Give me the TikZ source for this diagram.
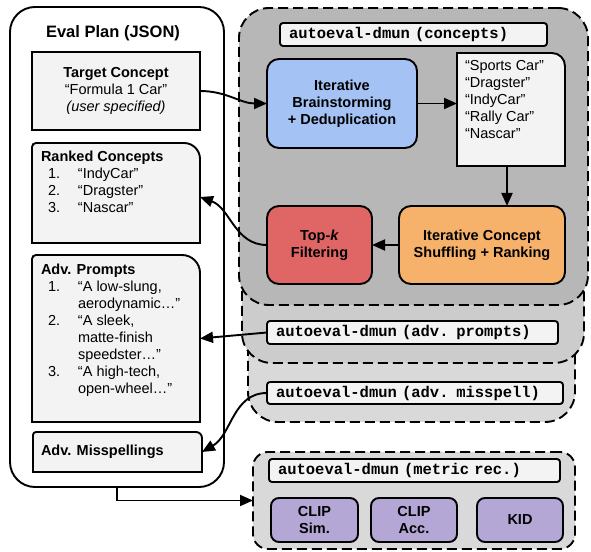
\documentclass[tikz,border=0pt]{standalone}
\usepackage{fontspec}
\setmainfont{Liberation Sans}
\setmonofont{Liberation Mono}
\usetikzlibrary{arrows.meta,calc}
\definecolor{lg}{HTML}{F3F3F3}
\definecolor{dgone}{HTML}{B7B7B7}
\definecolor{grc}{HTML}{CCCCCC}
\definecolor{lgone}{HTML}{D9D9D9}
\definecolor{blu}{HTML}{A4C2F4}
\definecolor{rdc}{HTML}{E06666}
\definecolor{orc}{HTML}{F6B26B}
\definecolor{prp}{HTML}{B4A7D6}
\begin{document}
\begin{tikzpicture}[x=1pt,y=1pt,
  every node/.style={inner sep=0pt, outer sep=0pt},
  body/.style={font=\fontsize{14.5}{17}\selectfont},
  ln/.style={line width=1.9pt},
  layer/.style={draw, ln, dash pattern=on 10pt off 5pt, rounded corners=30pt},
  tagbox/.style={draw, ln, fill=lg, rounded corners=3pt, text width=#1, align=left,
     font=\fontsize{15.5}{17}\selectfont\ttfamily\bfseries, minimum height=23pt, inner xsep=9pt},
  proc/.style={draw, ln, rounded corners=12pt, align=center, font=\fontsize{14.5}{17}\selectfont\bfseries},
  arr/.style={ln, -{Triangle[length=13pt,width=11pt]}},
  cardline/.style={ln, fill=lg}
]
\useasboundingbox (0,0) rectangle (591,551);

% ---------- Eval plan ----------
\node[draw, ln, rounded corners=25pt, minimum width=214pt, minimum height=480pt] (eval) at (117,304) {};
\node[font=\fontsize{16.5}{20}\selectfont\bfseries] (evaltitle) at (113,518) {Eval Plan (JSON)};

\node[draw, ln, fill=lg, minimum width=168pt, minimum height=78pt, align=center, body] (target) at (116,460)
  {\textbf{Target Concept}\\“Formula 1 Car”\\\textit{(user specified)}};

\node[minimum width=168pt, minimum height=100pt] (ranked) at (116,358) {};
\filldraw[cardline] (ranked.south west) -- ($(ranked.north west)+(0,-4)$) arc[start angle=180, end angle=90, radius=4pt]
  -- ($(ranked.north east)+(-16,0)$) arc[start angle=90, end angle=0, radius=16pt] -- (ranked.south east) -- cycle;
\node[body, align=left, anchor=north west] (rankedtxt) at (41,400)
  {\textbf{Ranked Concepts}\\
   \hspace*{7pt}\makebox[30pt][l]{1.}“IndyCar”\\
   \hspace*{7pt}\makebox[30pt][l]{2.}“Dragster”\\
   \hspace*{7pt}\makebox[30pt][l]{3.}“Nascar”};

\node[minimum width=168pt, minimum height=167pt] (prompts) at (116,212.5) {};
\filldraw[cardline] (prompts.south west) -- ($(prompts.north west)+(0,-4)$) arc[start angle=180, end angle=90, radius=4pt]
  -- ($(prompts.north east)+(-18,0)$) arc[start angle=90, end angle=0, radius=18pt] -- (prompts.south east) -- cycle;
\node[body, align=left, anchor=north west] (promptstxt) at (41,287.5)
  {\textbf{Adv. Prompts}\\
   \hspace*{7pt}\makebox[30pt][l]{1.}“A low-slung,\\
   \hspace*{37pt}aerodynamic…”\\
   \hspace*{7pt}\makebox[30pt][l]{2.}“A sleek,\\
   \hspace*{37pt}matte-finish\\
   \hspace*{37pt}speedster…”\\
   \hspace*{7pt}\makebox[30pt][l]{3.}“A high-tech,\\
   \hspace*{37pt}open-wheel…”};

\node[minimum width=169pt, minimum height=40pt] (missp) at (117.5,99) {};
\filldraw[cardline] (missp.south west) -- ($(missp.north west)+(0,-3)$) arc[start angle=180, end angle=90, radius=3pt]
  -- ($(missp.north east)+(-6,0)$) arc[start angle=90, end angle=0, radius=6pt] -- (missp.south east) -- cycle;
\node[body, anchor=west] (missptxt) at (41,99) {\textbf{Adv. Misspellings}};

% ---------- layered modules ----------
\node[layer, fill=lgone, minimum width=327pt, minimum height=392pt] (laym) at (411.5,325) {};
\node[layer, fill=grc, minimum width=342pt, minimum height=343pt] (layp) at (413,359.5) {};
\node[layer, fill=dgone, minimum width=349pt, minimum height=297pt] (layc) at (413.5,394.5) {};

\node[tagbox=249pt] (ctag) at (413.5,516.5) {autoeval-dmun (concepts)};
\node[proc, fill=blu, minimum width=150pt, minimum height=89pt] (blue) at (342,447.5) {Iterative\\Brainstorming\\+ Deduplication};

\node[minimum width=108pt, minimum height=113pt] (list) at (511,441.5) {};
\filldraw[cardline] (list.south west) -- (list.north west)
  -- ($(list.north east)+(-13,0)$) arc[start angle=90, end angle=0, radius=13pt] -- (list.south east) -- cycle;
\node[body, align=left, anchor=north west] (listtxt) at (465,490.5)
  {“Sports Car”\\“Dragster”\\“IndyCar”\\“Rally Car”\\“Nascar”};

\node[proc, fill=orc, minimum width=166pt, minimum height=78pt] (orange) at (482,306) {Iterative Concept\\Shuffling + Ranking};
\node[proc, fill=rdc, minimum width=105pt, minimum height=78pt] (red) at (319.5,306) {Top-\textit{k}\\Filtering};

\node[tagbox=273pt] (ptag) at (412.5,218.5) {autoeval-dmun (adv. prompts)};
\node[tagbox=278pt, minimum height=22pt] (mtag) at (415,158) {autoeval-dmun (adv. misspell)};

% ---------- metric module ----------
\node[layer, fill=lgone, rounded corners=15pt, minimum width=322pt, minimum height=97pt] (laymet) at (414,50.5) {};
\node[tagbox=273pt] (mettag) at (414.5,80.5) {autoeval-dmun (metric rec.)};
\node[proc, fill=prp, rounded corners=8pt, minimum width=87pt, minimum height=44pt] (sim) at (314.5,31) {CLIP\\Sim.};
\node[proc, fill=prp, rounded corners=8pt, minimum width=86pt, minimum height=44pt] (acc) at (414,31) {CLIP\\Acc.};
\node[proc, fill=prp, rounded corners=8pt, minimum width=86pt, minimum height=44pt] (kid) at (520,31) {KID};

% ---------- connectors ----------
\coordinate (lsb) at ($(list.south)+(-4,0)$);
\draw[arr] (target.east) to[out=0, in=180] (blue.west);
\draw[arr] (blue.east) -- (blue.east -| list.west);
\draw[arr] (lsb) -- (lsb |- orange.north);
\draw[arr] (orange.west) -- (red.east);
\draw[arr] (red.west) to[out=180, in=-20] ($(ranked.east)+(0,-4)$);
\draw[arr] (ptag.west) -- (prompts.east);
\draw[arr] (mtag.west) to[out=180, in=30] (missp.east);
\draw[arr] (eval.south) |- (laymet.west);
\end{tikzpicture}
\end{document}
